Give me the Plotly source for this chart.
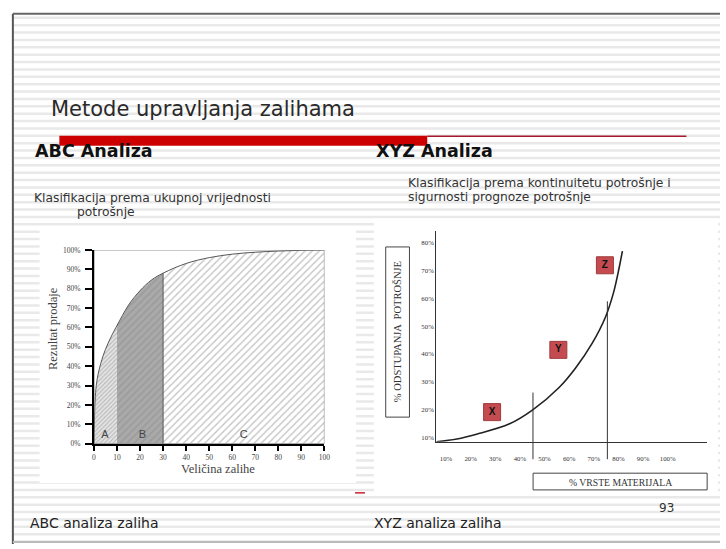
import numpy as np
import plotly.graph_objects as go

W, H = 726, 549

# ---------------- ABC data ----------------
abc_x = [0, 0.5, 1, 2, 4, 6, 8, 10, 15, 20, 25, 30, 40, 50, 60, 70, 80, 90, 100]
abc_y = [0, 22, 30, 37, 45.5, 51.5, 56.5, 61, 71.5, 79, 84.5, 88, 93, 96, 97.8, 98.8, 99.4, 99.8, 100]
abc_split = [10, 30]
abc_yticks = [0, 10, 20, 30, 40, 50, 60, 70, 80, 90, 100]
abc_yticktext = ["0%", "10%", "20%", "30%", "40%", "50%", "60%", "70%", "80%", "90%", "100%"]
abc_xticks = [0, 10, 20, 30, 40, 50, 60, 70, 80, 90, 100]
abc_xticktext = ["0", "10", "20", "30", "40", "50", "60", "70", "80", "90", "100"]
abc_zone_labels = ["A", "B", "C"]
abc_zone_x = [4.7, 21, 65]
abc_zone_y = [4.6, 4.6, 4.6]

# ---------------- XYZ data ----------------
xyz_x = [6.1, 14.4, 22.4, 35.8, 45.2, 55.9, 62.6, 69.3, 74.7, 78.0, 80.3, 81.6]
xyz_y = [8.6, 9.6, 11.3, 15.0, 20.0, 28.0, 35.0, 43.8, 53.2, 62.0, 71.0, 76.9]
xyz_class = ["X", "Y", "Z"]
xyz_class_x = [28.7, 55.6, 74.5]
xyz_class_y = [19.2, 41.5, 71.8]
xyz_split_x = [45.3, 75.5]
xyz_split_top = [26.2, 58.9]
xyz_yticks = [10, 20, 30, 40, 50, 60, 70, 80]
xyz_yticktext = ["10%", "20%", "30%", "40%", "50%", "60%", "70%", "80%"]
xyz_xticks = [10, 20, 30, 40, 50, 60, 70, 80, 90, 100]
xyz_xticktext = ["10%", "20%", "30%", "40%", "50%", "60%", "70%", "80%", "90%", "100%"]


def px(x):
    return x / W


def py(y):
    return 1 - y / H


SERIF = "Liberation Serif"
SANS = "DejaVu Sans"

fig = go.Figure()

# ---- ABC fills ----
ax = np.array(abc_x, dtype=float)
ay = np.array(abc_y, dtype=float)
segA = ax <= abc_split[0]
segB = (ax >= abc_split[0]) & (ax <= abc_split[1])
segC = ax >= abc_split[1]

fig.add_trace(go.Scatter(
    x=ax[segA], y=ay[segA], mode="lines", fill="tozeroy",
    line=dict(width=0, color="#888"),
    fillpattern=dict(shape="/", fgcolor="#8a8a8a", bgcolor="#e4e4e4", size=3, solidity=0.35),
    xaxis="x", yaxis="y", hoverinfo="skip", showlegend=False))
fig.add_trace(go.Scatter(
    x=ax[segB], y=ay[segB], mode="lines", fill="tozeroy",
    line=dict(width=0, color="#888"),
    fillpattern=dict(shape="/", fgcolor="#8c8c8c", bgcolor="#a9a9a9", size=5, solidity=0.3),
    xaxis="x", yaxis="y", hoverinfo="skip", showlegend=False))
fig.add_trace(go.Scatter(
    x=ax[segC], y=ay[segC], mode="lines", fill="tozeroy",
    line=dict(width=0, color="#888"),
    fillpattern=dict(shape="/", fgcolor="#8a8a8a", bgcolor="white", size=5, solidity=0.28),
    xaxis="x", yaxis="y", hoverinfo="skip", showlegend=False))
# boundary line at x=30
fig.add_trace(go.Scatter(
    x=[abc_split[1], abc_split[1]], y=[0, ay[ax == abc_split[1]][0]], mode="lines",
    line=dict(width=1, color="#555"), xaxis="x", yaxis="y", hoverinfo="skip", showlegend=False))
# curve
fig.add_trace(go.Scatter(
    x=abc_x, y=abc_y, mode="lines", line=dict(width=1, color="#555", shape="spline"),
    xaxis="x", yaxis="y", hoverinfo="skip", showlegend=False))
# zone labels
fig.add_trace(go.Scatter(
    x=abc_zone_x, y=abc_zone_y, mode="text", text=abc_zone_labels,
    textfont=dict(family="Liberation Sans", size=11, color="#444"),
    xaxis="x", yaxis="y", hoverinfo="skip", showlegend=False))

# ---- XYZ ----
fig.add_trace(go.Scatter(
    x=xyz_x, y=xyz_y, mode="lines", line=dict(width=1.6, color="#222", shape="spline"),
    xaxis="x2", yaxis="y2", hoverinfo="skip", showlegend=False))
for sx, st in zip(xyz_split_x, xyz_split_top):
    fig.add_trace(go.Scatter(
        x=[sx, sx], y=[st, 2.26], mode="lines", line=dict(width=1, color="#333"),
        xaxis="x2", yaxis="y3", hoverinfo="skip", showlegend=False))
fig.add_trace(go.Scatter(
    x=xyz_class_x, y=xyz_class_y, mode="markers+text", text=xyz_class,
    texttemplate="<b>%{text}</b>", textposition="middle center",
    textfont=dict(family="Liberation Sans", size=10, color="#111"),
    marker=dict(symbol="square", size=17, color="#c44c50", line=dict(color="#a03a3d", width=1)),
    xaxis="x2", yaxis="y2", hoverinfo="skip", showlegend=False))

# ---------------- shapes (slide decoration) ----------------
shapes = []
for yy in np.arange(14, 548, 7.5):
    shapes.append(dict(type="line", xref="paper", yref="paper", x0=px(12), x1=1,
                       y0=py(yy), y1=py(yy), line=dict(color="#e9e9e9", width=2.5), layer="below"))
# white image areas
shapes.append(dict(type="rect", xref="paper", yref="paper", x0=px(38), x1=px(358), y0=py(487), y1=py(228),
                   fillcolor="white", line=dict(width=0), layer="below"))
shapes.append(dict(type="rect", xref="paper", yref="paper", x0=px(376), x1=px(724), y0=py(500), y1=py(218),
                   fillcolor="white", line=dict(width=0), layer="below"))
# slide frame
shapes.append(dict(type="line", xref="paper", yref="paper", x0=px(11), x1=px(11), y0=py(10), y1=py(549),
                   line=dict(color="#555", width=2)))
shapes.append(dict(type="line", xref="paper", yref="paper", x0=px(11), x1=1, y0=py(10), y1=py(10),
                   line=dict(color="#666", width=2)))
shapes.append(dict(type="line", xref="paper", yref="paper", x0=px(11), x1=1, y0=py(547), y1=py(547),
                   line=dict(color="#bbb", width=2)))
# red bar + line
shapes.append(dict(type="rect", xref="paper", yref="paper", x0=px(58), x1=px(430), y0=py(144), y1=py(134),
                   fillcolor="#cc0000", line=dict(width=0)))
shapes.append(dict(type="line", xref="paper", yref="paper", x0=px(430), x1=px(692), y0=py(134.5), y1=py(134.5),
                   line=dict(color="#a8182c", width=1.5)))
# ABC frame (top and right)
shapes.append(dict(type="rect", xref="x", yref="y", x0=0, x1=100, y0=0, y1=100,
                   line=dict(color="#777", width=1)))
# XYZ boxes
shapes.append(dict(type="rect", xref="paper", yref="paper", x0=px(388), x1=px(412), y0=py(420), y1=py(247),
                   line=dict(color="#444", width=1)))
shapes.append(dict(type="rect", xref="paper", yref="paper", x0=px(537), x1=px(713), y0=py(494), y1=py(477),
                   line=dict(color="#444", width=1)))
# small red dash
shapes.append(dict(type="line", xref="paper", yref="paper", x0=px(357), x1=px(367), y0=py(497), y1=py(497),
                   line=dict(color="#cc2030", width=1.5)))

# ---------------- annotations (text) ----------------
ann = []


def txt(t, x, y, size, family=SANS, color="#222", xanchor="left", angle=0):
    ann.append(dict(text=t, x=px(x), y=py(y), xref="paper", yref="paper", showarrow=False,
                    xanchor=xanchor, yanchor="middle", textangle=angle,
                    font=dict(family=family, size=size, color=color)))


txt("Metode upravljanja zalihama", 48, 107, 21, color="#2a2a2a")
txt("<b>ABC Analiza</b>", 31, 149, 17.5, color="#111")
txt("<b>XYZ Analiza</b>", 376, 149, 17.5, color="#111")
txt("Klasifikacija prema ukupnoj vrijednosti", 30, 197, 12.3, color="#333")
txt("potrošnje", 74, 211, 12.3, color="#333")
txt("Klasifikacija prema kontinuitetu potrošnje i", 409, 182, 12.3, color="#333")
txt("sigurnosti prognoze potrošnje", 409, 196.5, 12.3, color="#333")
txt("ABC analiza zaliha", 26, 528, 14, color="#222")
txt("XYZ analiza zaliha", 374, 528, 14, color="#222")
txt("93", 672, 512, 12, color="#333", xanchor="center")
txt("Rezultat prodaje", 51, 330, 12.5, family=SERIF, color="#444", xanchor="center", angle=-90)
txt("Veličina zalihe", 218, 473, 12.5, family=SERIF, color="#444", xanchor="center")
txt("% ODSTUPANJA  POTROŠNJE", 400, 333, 10.5, family=SERIF, color="#333", xanchor="center", angle=-90)
txt("% VRSTE MATERIJALA", 625, 486, 9.7, family=SERIF, color="#333", xanchor="center")

tickfont_abc = dict(family=SERIF, size=7.5, color="#444")
tickfont_xyz = dict(family=SERIF, size=6.8, color="#333")

fig.update_layout(
    width=W, height=H, margin=dict(l=0, r=0, t=0, b=0),
    paper_bgcolor="white", plot_bgcolor="rgba(0,0,0,0)",
    showlegend=False, shapes=shapes, annotations=ann,
    xaxis=dict(domain=[px(93), px(326)], range=[0, 100], anchor="y",
               showline=True, linewidth=2, linecolor="black", ticks="outside", ticklen=5,
               tickwidth=2, tickcolor="black", tickvals=abc_xticks, ticktext=abc_xticktext,
               tickfont=tickfont_abc, showgrid=False, zeroline=False, fixedrange=True),
    yaxis=dict(domain=[py(447), py(250)], range=[0, 100], anchor="x",
               showline=True, linewidth=2, linecolor="black", ticks="outside", ticklen=7,
               tickwidth=2, tickcolor="black", tickvals=abc_yticks, ticktext=abc_yticktext,
               ticklabelstandoff=3,
               tickfont=tickfont_abc, showgrid=False, zeroline=False, fixedrange=True),
    xaxis2=dict(domain=[px(439), px(713)], range=[6, 116], anchor="y2",
                showline=True, linewidth=1, linecolor="#333", ticks="",
                tickvals=xyz_xticks, ticktext=xyz_xticktext, tickfont=tickfont_xyz,
                ticklabelstandoff=10, showgrid=False, zeroline=False, fixedrange=True),
    yaxis2=dict(domain=[py(445), py(231)], range=[8.6, 84], anchor="x2",
                showline=True, linewidth=1, linecolor="#333", ticks="",
                tickvals=xyz_yticks, ticktext=xyz_yticktext, tickfont=tickfont_xyz,
                showgrid=False, zeroline=False, fixedrange=True),
    yaxis3=dict(domain=[py(463), py(231)], range=[2.26, 84], anchor="x2", visible=False,
                showgrid=False, zeroline=False, fixedrange=True),
)

fig.write_html(
    "out.html",
    config={"displayModeBar": False, "staticPlot": True},
    post_script=(
        "document.documentElement.style.cssText='margin:0;padding:0;overflow:hidden;width:726px;height:549px';"
        "document.body.style.cssText='margin:0;padding:0;overflow:hidden;width:726px;height:549px';"
    ),
)
